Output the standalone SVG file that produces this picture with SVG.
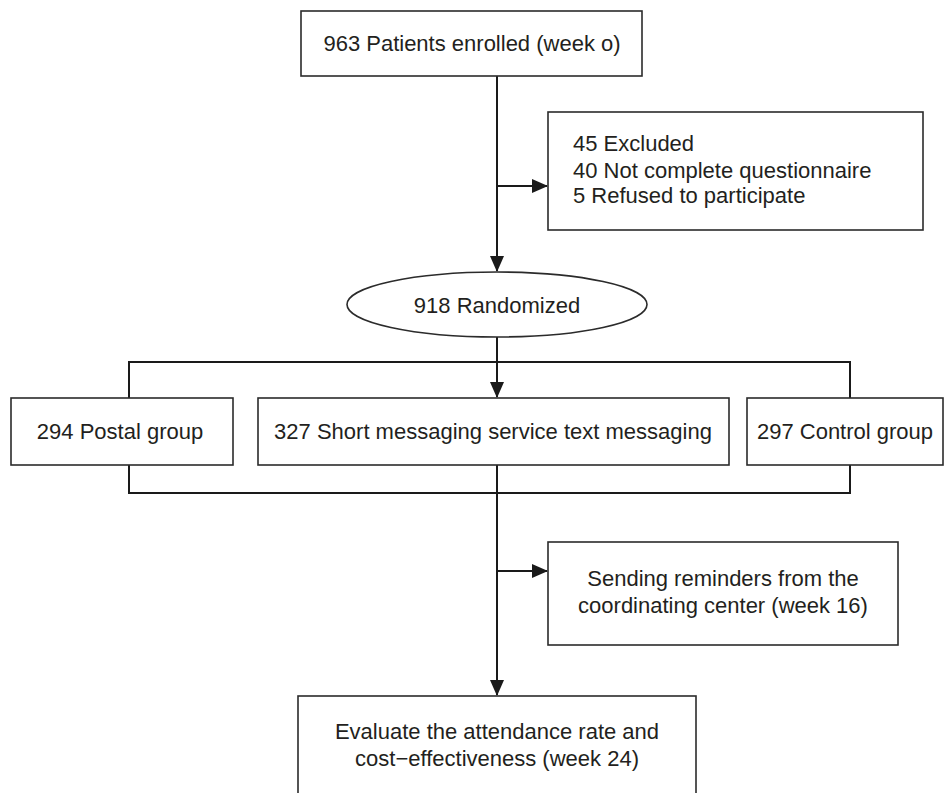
<svg xmlns="http://www.w3.org/2000/svg" width="948" height="793" viewBox="0 0 948 793">
<style>
.box{fill:#fff;stroke:#2b2b2b;stroke-width:1.6}
.t{font-family:"Liberation Sans",Arial,sans-serif;font-size:22px;fill:#231f20}
.c{text-anchor:middle}
.ln{fill:none;stroke:#1a1a1a;stroke-width:2}
</style>
<defs>
<marker id="ah" markerUnits="userSpaceOnUse" markerWidth="16" markerHeight="14" refX="15" refY="7" orient="auto">
<path d="M0,0 L16,7 L0,14 Z" fill="#1a1a1a"/>
</marker>
</defs>
<rect width="948" height="793" fill="#fff"/>
<g id="connectors">
<path class="ln" d="M497,76 V271" marker-end="url(#ah)"/>
<path class="ln" d="M497,186 H547" marker-end="url(#ah)"/>
<path class="ln" d="M497,337 V397" marker-end="url(#ah)"/>
<path class="ln" d="M129,398 V362 H850 V398"/>
<path class="ln" d="M129,465 V493 H850 V465"/>
<path class="ln" d="M497,465 V695" marker-end="url(#ah)"/>
<path class="ln" d="M497,571 H547" marker-end="url(#ah)"/>
</g>
<g id="enrolled">
<rect class="box" x="301" y="11" width="341" height="65"/>
<text class="t c" x="472" y="51">963 Patients enrolled (week o)</text>
</g>
<g id="excluded">
<rect class="box" x="548" y="112" width="375" height="118"/>
<text class="t" x="573" y="151">45 Excluded</text>
<text class="t" x="573" y="178">40 Not complete questionnaire</text>
<text class="t" x="573" y="203">5 Refused to participate</text>
</g>
<g id="randomized">
<ellipse class="box" cx="497" cy="304.5" rx="150" ry="32.5"/>
<text class="t c" x="497" y="313">918 Randomized</text>
</g>
<g id="postal">
<rect class="box" x="11" y="398" width="222" height="67"/>
<text class="t c" x="120" y="439">294 Postal group</text>
</g>
<g id="sms">
<rect class="box" x="258" y="398" width="471" height="67"/>
<text class="t c" x="493" y="439">327 Short messaging service text messaging</text>
</g>
<g id="control">
<rect class="box" x="747" y="398" width="196" height="67"/>
<text class="t c" x="845" y="439">297 Control group</text>
</g>
<g id="reminders">
<rect class="box" x="548" y="542" width="350" height="103"/>
<text class="t c" x="723" y="586">Sending reminders from the</text>
<text class="t c" x="723" y="613">coordinating center (week 16)</text>
</g>
<g id="evaluate">
<rect class="box" x="298" y="696" width="398" height="110"/>
<text class="t c" x="497" y="739">Evaluate the attendance rate and</text>
<text class="t c" x="497" y="766">cost−effectiveness (week 24)</text>
</g>
</svg>
